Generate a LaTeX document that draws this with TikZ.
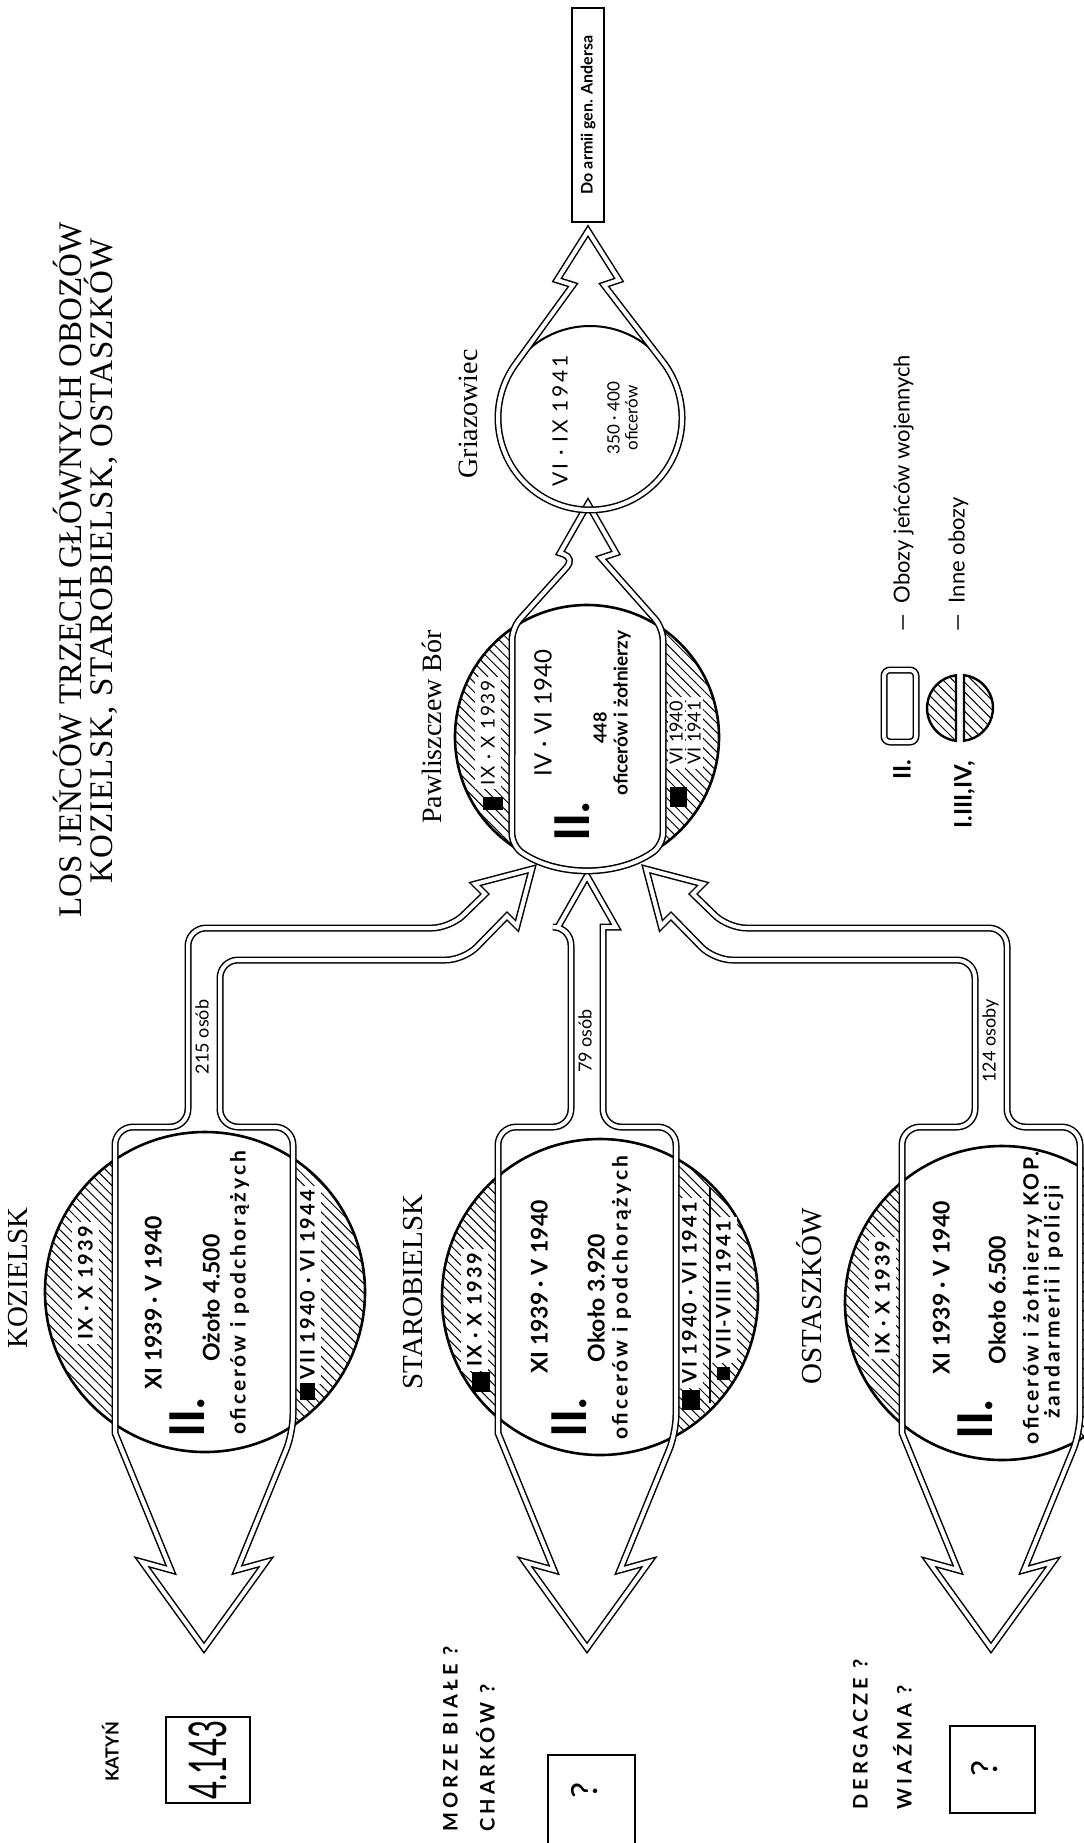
\documentclass[tikz,border=0pt]{standalone}
\usepackage{fontspec}
\setmainfont{Liberation Serif}
\newfontfamily\gill{Lato}
\usetikzlibrary{patterns.meta}
\newcommand\fsz[1]{\fontsize{#1}{#1}\selectfont}
\newcommand\lsp[1]{\addfontfeature{LetterSpace=#1}}
\begin{document}
\begin{tikzpicture}[x=0.5pt,y=-0.5pt,
  dbl/.style={draw=black,line width=0.75pt,double=white,double distance=2pt},
  hatch/.style={pattern={Lines[angle=-45,distance=3.4pt,line width=0.5pt]}},
  circ/.style={line width=1.3pt},
  rt/.style={rotate=90,inner sep=0pt,anchor=mid},
  ttl/.style={rt,font=\fsz{16.5pt}},
  camp/.style={rt,font=\fsz{14.5pt}},
  bandb/.style={rt,font=\gill\bfseries\fsz{11.5pt}},
  bands/.style={rt,font=\gill\bfseries\fsz{10.5pt}\lsp{14}},
  capl/.style={rt,font=\gill\bfseries\fsz{10pt}\lsp{10},fill=white,inner xsep=2pt,inner ysep=3pt},
  roman/.style={rt,font=\gill\bfseries\fsz{24pt}},
  striplab/.style={rt,font=\gill\fsz{9pt}},
  dest/.style={rt,anchor=mid west,font=\gill\bfseries\fsz{10pt}\lsp{20}},
  box/.style={draw,line width=1pt,rotate=90,inner sep=0pt},
  patch/.style={fill=black}
]
\useasboundingbox (0,0) rectangle (1083,1843);

% ---------- saved outlines ----------
\path[save path=\pKoz] (115,1300) [rounded corners=9] -- (115,1127) -- (188,1127) -- (188,928) -- (450,928) [sharp corners] -- (485,894) -- (475,884) -- (532,869) -- (517,926) -- (507,916) [rounded corners=9] -- (464,960) -- (220,960) -- (220,1127) -- (293,1127) -- (293,1433) [sharp corners] -- (237,1570) -- (266,1562) -- (204,1648) -- (142,1562) -- (171,1570) -- (115,1433) -- cycle;
\path[save path=\pSta] (498,1300) [rounded corners=9] -- (498,1127) -- (571,1127) -- (571,927) [sharp corners] -- (558,927) -- (587,876) -- (616,927) -- (603,927) [rounded corners=9] -- (603,1127) -- (676,1127) -- (676,1433) [sharp corners] -- (620,1570) -- (649,1562) -- (587,1648) -- (525,1562) -- (554,1570) -- (498,1433) -- cycle;
\path[save path=\pOst] (902,1300) [rounded corners=9] -- (902,1127) -- (975,1127) -- (975,960) -- (714,960) [sharp corners] -- (671,916) -- (661,926) -- (646,869) -- (703,884) -- (693,894) [rounded corners=9] -- (728,928) -- (1007,928) -- (1007,1127) -- (1080,1127) -- (1080,1433) [sharp corners] -- (1024,1570) -- (1053,1562) -- (991,1648) -- (929,1562) -- (958,1570) -- (902,1433) -- cycle;
\path[save path=\pPB] (512,740) [rounded corners=6] -- (512,628) -- (575,558) [sharp corners] -- (560,553) -- (588,504) -- (616,553) -- (601,558) [rounded corners=6] -- (663,628) -- (663,845) arc[start angle=54.8,end angle=124.6,radius=132] -- cycle;
\path[save path=\pGr] (573,285) -- (515.6,363.9) arc[start angle=216,end angle=-37.3,radius=92] -- (604,285) -- (619,280) -- (588,231) -- (557,280) -- cycle;

% ---------- Kozielsk ----------
\fill[hatch] (205,1292) circle[radius=160];
\path[use path=\pKoz,fill=white];
\draw[circ] (205,1292) circle[radius=160];
\node[capl] (kozA) at (88,1283) {IX · X 1939};
\node[capl] (kozB) at (310,1285) {VII 1940 · VI 1944};
\fill[patch] (300,1383) rectangle (315,1400);
\path[use path=\pKoz,dbl];
\node[bandb] (koz1) at (157,1303) {XI 1939 · V 1940};
\node[bandb] (koz2) at (215,1298) {Ożoło 4.500};
\node[bands] (koz3) at (241,1293) {oficerów i podchorążych};
\node[roman] (kozR) at (200,1418) {II.};
\node[striplab] (s1) at (204,1037) {215 osób};

% ---------- Starobielsk ----------
\fill[hatch] (600,1297) circle[radius=158];
\path[use path=\pSta,fill=white];
\draw[circ] (600,1297) circle[radius=158];
\node[capl] (staA) at (477,1310) {IX · X 1939};
\node[capl] (staB) at (692,1293) {VI 1940 · VI 1941};
\node[capl] (staC) at (726,1290) {VII-VIII 1941};
\draw[line width=0.8pt] (710,1187) -- (710,1403);
\fill[patch] (682,1390) rectangle (700,1410);
\fill[patch] (717,1367) rectangle (730,1380);
\fill[patch] (472,1372) rectangle (490,1392);
\path[use path=\pSta,dbl];
\node[bandb] (sta1) at (543,1287) {XI 1939 · V 1940};
\node[bandb] (sta2) at (600,1298) {Około 3.920};
\node[bands] (sta3) at (623,1298) {oficerów i podchorążych};
\node[roman] (staR) at (582,1418) {II.};
\node[striplab] (s2) at (587,1041) {79 osób};

% ---------- Ostaszkow ----------
\fill[hatch] (1002,1303) circle[radius=157];
\path[use path=\pOst,fill=white];
\draw[circ] (1002,1303) circle[radius=157];
\node[capl] (ostA) at (885,1298) {IX · X 1939};
\path[use path=\pOst,dbl];
\node[bandb] (ost1) at (945,1288) {XI 1939 · V 1940};
\node[bandb] (ost2) at (1001,1300) {Około 6.500};
\node[bands] (ost3) at (1034,1298) {oficerów i żołnierzy KOP.};
\node[bands] (ost4) at (1055,1302) {żandarmerii i policji};
\node[roman] (ostR) at (988,1420) {II.};
\node[striplab] (s3) at (991,1041) {124 osoby};

% ---------- Pawliszczew Bor ----------
\fill[hatch] (587,737) circle[radius=132];
\path[use path=\pPB,fill=white];
\draw[circ] (587,737) circle[radius=132];
\node[capl,font=\gill\fsz{9.5pt}\lsp{8}] (pbA) at (490,733) {IX · X 1939};
\node[capl,font=\gill\fsz{9pt},inner ysep=1pt] (pbB) at (678,733) {VI 1940};
\node[capl,font=\gill\fsz{9pt},inner ysep=1pt] (pbC) at (696,733) {VI 1941};
\fill[patch] (483,797) rectangle (503,810);
\fill[patch] (670,787) rectangle (687,807);
\path[use path=\pPB,dbl];
\node[rt,font=\gill\fsz{12pt}] (pb1) at (547,713) {IV · VI 1940};
\node[rt,font=\gill\bfseries\fsz{9pt}] (pb2) at (602,728) {448};
\node[rt,font=\gill\bfseries\fsz{9.5pt}] (pb3) at (623,713) {oficerów i żołnierzy};
\node[roman] (pbR) at (585,822) {II.};

% ---------- Griazowiec ----------
\draw[line width=1pt] (590,418) circle[radius=92];
\path[use path=\pGr,dbl];
\node[rt,font=\gill\fsz{10.5pt}\lsp{13}] (gr1) at (563,421) {VI · IX 1941};
\node[rt,font=\gill\fsz{8.5pt}] (gr2) at (615,418) {350 · 400};
\node[rt,font=\gill\fsz{8.5pt}] (gr3) at (633,418) {oficerów};

% ---------- Anders ----------
\node[box,line width=0.6pt,minimum width=107pt,minimum height=16pt,font=\gill\bfseries\fsz{8pt}] (anders) at (588,115) {Do armii gen. Andersa};

% ---------- titles and names ----------
\node[ttl] (t1) at (77,570) {LOS JEŃCÓW TRZECH GŁÓWNYCH OBOZÓW};
\node[ttl,font=\fsz{16.5pt}\lsp{3}] (t2) at (108,561) {KOZIELSK, STAROBIELSK, OSTASZKÓW};
\node[camp] (nKoz) at (23,1278) {KOZIELSK};
\node[camp] (nSta) at (418,1292) {STAROBIELSK};
\node[camp] (nOst) at (817,1296) {OSTASZKÓW};
\node[camp,font=\fsz{14pt}] (nPB) at (437,727) {Pawliszczew Bór};
\node[camp,font=\fsz{14pt}] (nGr) at (473,414) {Griazowiec};

% ---------- destinations ----------
\node[rt,font=\gill\bfseries\fsz{9pt}] (katyn) at (114,1752) {KATYŃ};
\node[box,minimum width=43pt,minimum height=42pt,font=\gill\fsz{26pt}] (b1) at (208,1760) {\scalebox{0.6}[1]{4.143}};
\node[dest] (morze) at (453,1832) {MORZE BIAŁE ?};
\node[dest] (charkow) at (490,1832) {CHARKÓW ?};
\node[box,minimum width=60pt,minimum height=43.5pt] (b2) at (591.5,1815) {};
\node[rt,font=\gill\fsz{18pt}] (q2) at (593,1790) {?};
\node[dest] (derg) at (863,1810) {DERGACZE ?};
\node[dest] (wiaz) at (907,1810) {WIAŹMA ?};
\node[box,minimum width=43.5pt,minimum height=42.5pt] (b3) at (992.5,1769.5) {};
\node[rt,font=\gill\fsz{18pt}] (q3) at (993,1768) {?};

% ---------- legend ----------
\node[dbl,rounded corners=3,rotate=90,minimum width=36pt,minimum height=16pt,inner sep=0pt] (lgRect) at (900,706) {};
\node[rt,font=\gill\bfseries\fsz{12pt}] (lgII) at (906,770) {II.};
\draw[hatch,line width=1.2pt] (956,740.8) arc[start angle=97,end angle=263,radius=33] -- cycle;
\draw[hatch,line width=1.2pt] (964,675.2) arc[start angle=-83,end angle=83,radius=33] -- cycle;
\node[rt,font=\gill\bfseries\fsz{12pt}] (lgI) at (967,795) {I.III,IV,};
\node[rt,anchor=mid west,font=\gill\fsz{11pt}] (lg1) at (905,632) {—\enspace Obozy jeńców wojennych};
\node[rt,anchor=mid west,font=\gill\fsz{11pt}] (lg2) at (960,632) {—\enspace Inne obozy};
\end{tikzpicture}
\end{document}
